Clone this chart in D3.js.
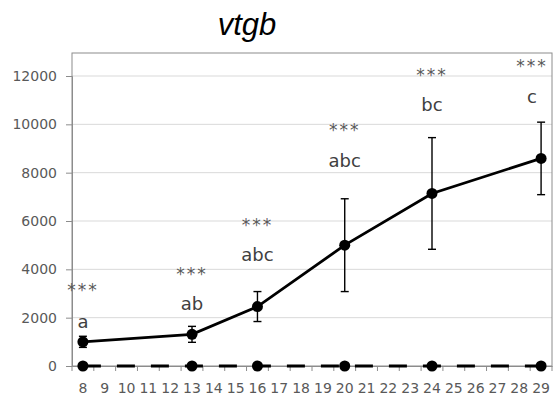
<!DOCTYPE html>
<html>
<head>
<meta charset="utf-8">
<script src="https://cdn.jsdelivr.net/npm/d3@7"></script>
<style>
  body { margin: 0; background: #fff; }
  text { font-family: "DejaVu Sans", sans-serif; }
</style>
</head>
<body>
<svg width="560" height="401"></svg>
<script>
const days = [8, 9, 10, 11, 12, 13, 14, 15, 16, 17, 18, 19, 20, 21, 22, 23, 24, 25, 26, 27, 28, 29];
const sampleDays = [8, 13, 16, 20, 24, 29];
const means = [1000, 1310, 2460, 5000, 7140, 8590];
const errs = [230, 330, 620, 1920, 2310, 1500];
const control = [0, 0, 0, 0, 0, 0];
const letters = ["a", "ab", "abc", "abc", "bc", "c"];
const letterY = [1830, 2570, 4630, 8520, 10840, 11140];
const starY = [3310, 3970, 6010, 9930, 12220, 12580];
const yTicks = [0, 2000, 4000, 6000, 8000, 10000, 12000];

const svg = d3.select("svg");
const plotL = 72, plotR = 552, plotT = 53, plotB = 366;

const x = d3.scaleBand().domain(days).range([plotL, plotR]);
const cx = d => x(d) + x.bandwidth() / 2;
const y = d3.scaleLinear().domain([0, 12000]).range([plotB, 76]);

// gridlines
svg.selectAll(".grid")
  .data(yTicks.slice(1))
  .enter().append("line")
  .attr("x1", plotL).attr("x2", plotR)
  .attr("y1", d => y(d)).attr("y2", d => y(d))
  .attr("stroke", "#d9d9d9");

// plot border
svg.append("rect")
  .attr("x", plotL).attr("y", plotT)
  .attr("width", plotR - plotL).attr("height", plotB - plotT)
  .attr("fill", "none").attr("stroke", "#8c8c8c");

// y axis
const yAxis = svg.append("g")
  .attr("transform", `translate(${plotL},0)`)
  .attr("font-size", 14)
  .attr("font-family", "DejaVu Sans")
  .call(d3.axisLeft(y).tickValues(yTicks).tickSize(6).tickPadding(9).tickFormat(d3.format("d")));
yAxis.attr("font-size", 14).attr("font-family", "DejaVu Sans");
yAxis.select(".domain").attr("stroke", "#8c8c8c");
yAxis.selectAll(".tick line").attr("stroke", "#8c8c8c");
yAxis.selectAll("text").attr("fill", "#595959");

// x axis
const xAxis = svg.append("g")
  .attr("transform", `translate(0,${plotB})`)
  .call(d3.axisBottom(x).tickSize(0).tickPadding(17));
xAxis.attr("font-size", 14).attr("font-family", "DejaVu Sans");
xAxis.select(".domain").attr("stroke", "#8c8c8c");
xAxis.selectAll("text").attr("fill", "#595959");
xAxis.selectAll(".sep")
  .data(days.map(d => x(d)).concat([plotR]))
  .enter().append("line")
  .attr("x1", d => d).attr("x2", d => d)
  .attr("y1", 0).attr("y2", 5)
  .attr("stroke", "#8c8c8c");

// control series at zero
const line = d3.line().x(d => cx(d[0])).y(d => y(d[1]));
svg.append("path")
  .datum(sampleDays.map((d, i) => [d, control[i]]))
  .attr("d", line)
  .attr("fill", "none")
  .attr("stroke", "#000")
  .attr("stroke-width", 3)
  .attr("stroke-dasharray", "18,16");
svg.selectAll(".cdot")
  .data(sampleDays.map((d, i) => [d, control[i]]))
  .enter().append("circle")
  .attr("cx", d => cx(d[0])).attr("cy", d => y(d[1]))
  .attr("r", 5.5).attr("fill", "#000");

// main series
const pts = sampleDays.map((d, i) => [d, means[i], errs[i]]);
svg.append("path")
  .datum(pts)
  .attr("d", line)
  .attr("fill", "none")
  .attr("stroke", "#000")
  .attr("stroke-width", 2.8);

const eb = svg.selectAll(".eb")
  .data(pts)
  .enter().append("g")
  .attr("stroke", "#000").attr("stroke-width", 1.4);
eb.append("line")
  .attr("x1", d => cx(d[0])).attr("x2", d => cx(d[0]))
  .attr("y1", d => y(d[1] - d[2])).attr("y2", d => y(d[1] + d[2]));
eb.append("line")
  .attr("x1", d => cx(d[0]) - 4).attr("x2", d => cx(d[0]) + 4)
  .attr("y1", d => y(d[1] - d[2])).attr("y2", d => y(d[1] - d[2]));
eb.append("line")
  .attr("x1", d => cx(d[0]) - 4).attr("x2", d => cx(d[0]) + 4)
  .attr("y1", d => y(d[1] + d[2])).attr("y2", d => y(d[1] + d[2]));

svg.selectAll(".mdot")
  .data(pts)
  .enter().append("circle")
  .attr("cx", d => cx(d[0])).attr("cy", d => y(d[1]))
  .attr("r", 5.5).attr("fill", "#000");

// annotations
const labX = d => Math.min(cx(d), plotR - 20);
svg.selectAll(".stars")
  .data(sampleDays)
  .enter().append("text")
  .attr("x", d => labX(d))
  .attr("y", (d, i) => y(starY[i]) + 10)
  .attr("text-anchor", "middle")
  .attr("fill", "#595959")
  .style("font-size", "17px")
  .style("letter-spacing", "2px")
  .text("***");
svg.selectAll(".letters")
  .data(sampleDays)
  .enter().append("text")
  .attr("x", d => labX(d))
  .attr("y", (d, i) => y(letterY[i]) + 6.5)
  .attr("text-anchor", "middle")
  .attr("fill", "#404040")
  .style("font-size", "18px")
  .text((d, i) => letters[i]);

// title
svg.append("text")
  .attr("x", 247).attr("y", 35)
  .attr("text-anchor", "middle")
  .style("font-family", "Liberation Sans, Arial, sans-serif")
  .style("font-style", "italic")
  .style("font-size", "31px")
  .attr("fill", "#000")
  .text("vtgb");
</script>
</body>
</html>
